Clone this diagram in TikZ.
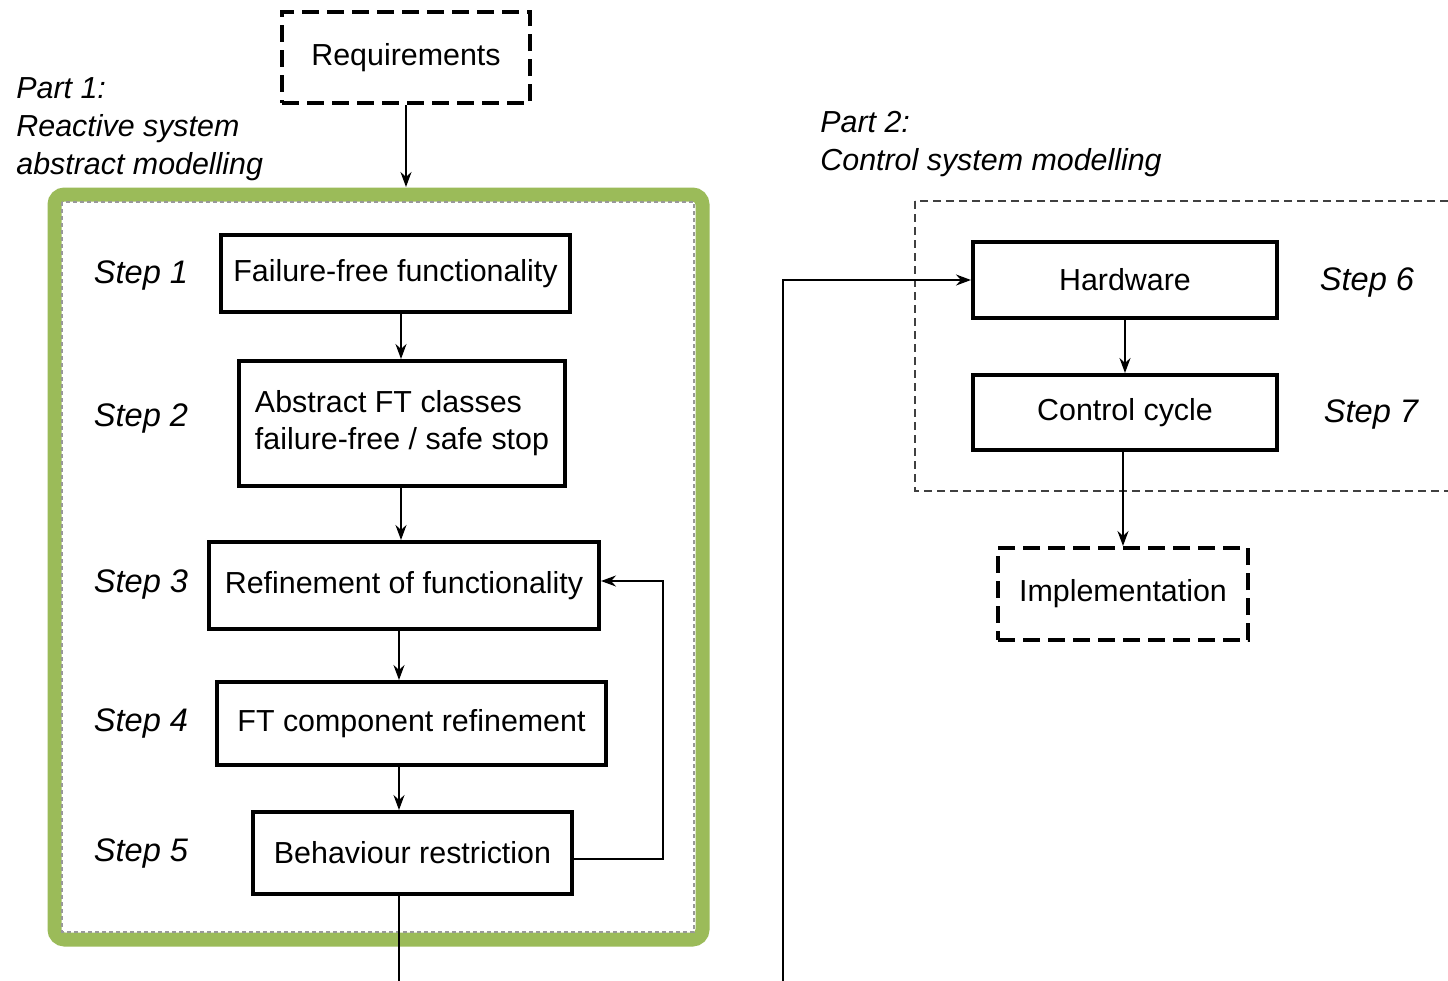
\documentclass[tikz,border=0pt]{standalone}
\usepackage{fontspec}
\setmainfont{Liberation Sans}
\usetikzlibrary{arrows.meta,calc}
\definecolor{framegreen}{HTML}{9BBB59}
\tikzset{
  box/.style={draw=black, line width=2pt, inner sep=0pt, align=center,
    font=\fontsize{15.2}{18.5}\selectfont},
  dashbox/.style={box, dash pattern=on 8.5pt off 4pt},
  steplbl/.style={inner sep=0pt, font=\fontsize{16.3}{19}\selectfont\itshape},
  partlbl/.style={inner sep=0pt, align=left, anchor=west,
    font=\fontsize{15.2}{19}\selectfont\itshape},
  arr/.style={line width=0.8pt, -{Stealth[length=7.5pt,width=5.5pt]}},
  wire/.style={line width=0.8pt},
}
\begin{document}
\begin{tikzpicture}[x=0.5pt,y=-0.5pt]
\useasboundingbox (0,0) rectangle (1448,981);
\clip (0,0) rectangle (1448,981);
\fill[white] (0,0) rectangle (1448,981);

% Part 1 frame: green border with a grey dashed inner outline
\draw[framegreen, line width=7pt, rounded corners=5pt] (54.5,194.5) rectangle (702.5,939.5);
\draw[gray!80, line width=0.6pt, dash pattern=on 2pt off 1.5pt] (62,202) rectangle (694,932);

% Part 2 frame
\draw[black!75, line width=0.75pt, dash pattern=on 4pt off 2.5pt] (915,201) rectangle (1470,491);

% Column coordinates for the vertical connectors
\coordinate (x401) at (401,0);
\coordinate (x399) at (399,0);
\coordinate (x406) at (406,0);
\coordinate (fb) at (663,0);
\coordinate (gtop) at (406,187);
\coordinate (bot1) at (399,981);
\coordinate (bot2) at (783,981);

% Labels
\node[partlbl] (p1) at (16,129) {Part 1:\\Reactive system\\abstract modelling};
\node[partlbl] (p2) at (820,144) {Part 2:\\Control system modelling};

% Part 1 boxes
\node[dashbox, minimum width=124pt, minimum height=45.5pt] (req) at (406,57.5) {Requirements};
\node[box, minimum width=174.5pt, minimum height=38.5pt] (s1) at (395.5,273.5) {Failure-free functionality};
\node[box, minimum width=163pt, minimum height=62.5pt, align=left] (s2) at (402,423.5) {Abstract FT classes\\failure-free / safe stop};
\node[box, minimum width=195pt, minimum height=43.5pt] (s3) at (404,585.5) {Refinement of functionality};
\node[box, minimum width=194.5pt, minimum height=41.5pt] (s4) at (411.5,723.5) {FT component refinement};
\node[box, minimum width=159.5pt, minimum height=41pt] (s5) at (412.5,853) {Behaviour restriction};

\node[steplbl] (l1) at (141,275) {Step 1};
\node[steplbl] (l2) at (141,418) {Step 2};
\node[steplbl] (l3) at (141,584) {Step 3};
\node[steplbl] (l4) at (141,723) {Step 4};
\node[steplbl] (l5) at (141,853) {Step 5};

% Part 2 boxes
\node[box, minimum width=152pt, minimum height=38pt] (hw) at (1125,280) {Hardware};
\node[box, minimum width=152pt, minimum height=37.5pt] (cc) at (1125,412.5) {Control cycle};
\node[dashbox, minimum width=125pt, minimum height=46pt] (impl) at (1123,594) {Implementation};

\node[steplbl] (l6) at (1367,282) {Step 6};
\node[steplbl] (l7) at (1371,414) {Step 7};

% Connectors
\draw[arr] (req.south -| x406) -- (gtop);
\draw[arr] (s1.south -| x401) -- (s2.north -| x401);
\draw[arr] (s2.south -| x401) -- (s3.north -| x401);
\draw[arr] (s3.south -| x399) -- (s4.north -| x399);
\draw[arr] (s4.south -| x399) -- (s5.north -| x399);
\draw[arr] ([yshift=-3pt]s5.east) -- ([yshift=-3pt]s5.east -| fb) -- ([yshift=2.25pt]s3.east -| fb) -- ([yshift=2.25pt]s3.east);
\draw[wire] (s5.south -| x399) -- (bot1);
\draw[arr] (bot2) |- (hw.west);
\draw[arr] (hw.south) -- (cc.north);
\draw[arr] ([xshift=-1pt]cc.south) -- ([xshift=-1pt]cc.south |- impl.north);
\end{tikzpicture}
\end{document}
